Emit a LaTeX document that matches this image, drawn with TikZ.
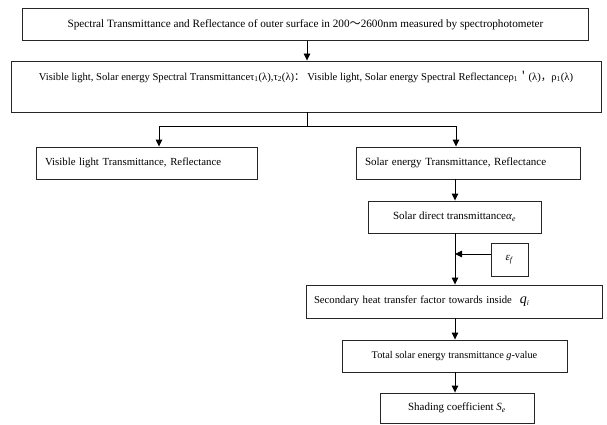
\documentclass[tikz,border=0pt]{standalone}
\usepackage{fontspec}
\setmainfont{Liberation Serif}
\newfontfamily\cjk{Noto Sans CJK SC}
\usetikzlibrary{arrows.meta}
\tikzset{
  box/.style={draw=black!85, line width=0.9pt, minimum height=32pt, inner sep=2pt, font=\fontsize{11}{13}\selectfont},
  conn/.style={draw=black, line width=0.9pt},
  arr/.style={conn, -{Triangle[length=7pt,width=6.5pt]}}
}
\begin{document}
\begin{tikzpicture}[x=1pt,y=-1pt]
\useasboundingbox (0,0) rectangle (607,425);
\node[box, minimum width=566pt, font=\fontsize{11.2}{13}\selectfont] (b1) at (305.5,24.5) {Spectral Transmittance and Reflectance of outer surface in 200{\cjk ～}2600nm measured by spectrophotometer};
\node[box, minimum width=590pt, minimum height=51pt, font=\fontsize{10.6}{13}\selectfont] (b2) at (306,86.5) {\parbox[c][45pt][t]{586pt}{\centering\vspace{7pt}Visible light, Solar energy Spectral Transmittanceτ\textsubscript{1}(λ),τ\textsubscript{2}(λ){\cjk ：} Visible light, Solar energy Spectral Reflectanceρ\textsubscript{1}{\cjk ＇}(λ){\cjk ，}ρ\textsubscript{1}(λ)}};
\node[box, minimum width=221pt, text width=203pt, align=left, font=\fontsize{10.8}{13}\selectfont] (b3l) at (146.5,163) {Visible light Transmittance, Reflectance};
\node[box, minimum width=224pt, text width=206pt, align=left] (b3r) at (468,163) {Solar energy Transmittance, Reflectance};
\node[box, minimum width=173pt] (b4) at (454.5,217) {Solar direct transmittance\textit{α}\textsubscript{\textit{e}}};
\node[box, minimum width=37pt, minimum height=33pt] (eps) at (509.5,259.5) {\textit{ε}\textsubscript{\textit{f}}};
\node[box, minimum width=296pt, minimum height=33pt, text width=280pt, align=left, font=\fontsize{10.7}{13}\selectfont] (b5) at (454,301.5) {Secondary heat transfer factor towards inside\hspace{8pt}{\fontsize{14}{14}\selectfont\textit{q}}\textsubscript{\textit{i}}};
\node[box, minimum width=225pt, font=\fontsize{10.3}{13}\selectfont] (b6) at (454.5,356) {Total solar energy transmittance \textit{g}-value};
\node[box, minimum width=154pt, minimum height=30pt] (b7) at (457,408) {Shading coefficient \textit{S}\textsubscript{\textit{e}}};
\coordinate (topx) at (307,0);
\coordinate (j) at (307,126);
\coordinate (lx) at (159,126);
\coordinate (rx) at (456,126);
\coordinate (sp) at (455,0);
\coordinate (ea) at (455,254);
\draw[arr] (b1.south -| topx) -- (b2.north -| topx);
\draw[conn] (b2.south -| j) -- (j);
\draw[arr] (j) -- (lx) -- (b3l.north -| lx);
\draw[arr] (j) -- (rx) -- (b3r.north -| rx);
\draw[arr] (b3r.south -| sp) -- (b4.north -| sp);
\draw[arr] (b4.south -| sp) -- (b5.north -| sp);
\draw[arr] (eps.west |- ea) -- (ea);
\draw[arr] (b5.south -| sp) -- (b6.north -| sp);
\draw[arr] (b6.south -| sp) -- (b7.north -| sp);
\end{tikzpicture}
\end{document}
